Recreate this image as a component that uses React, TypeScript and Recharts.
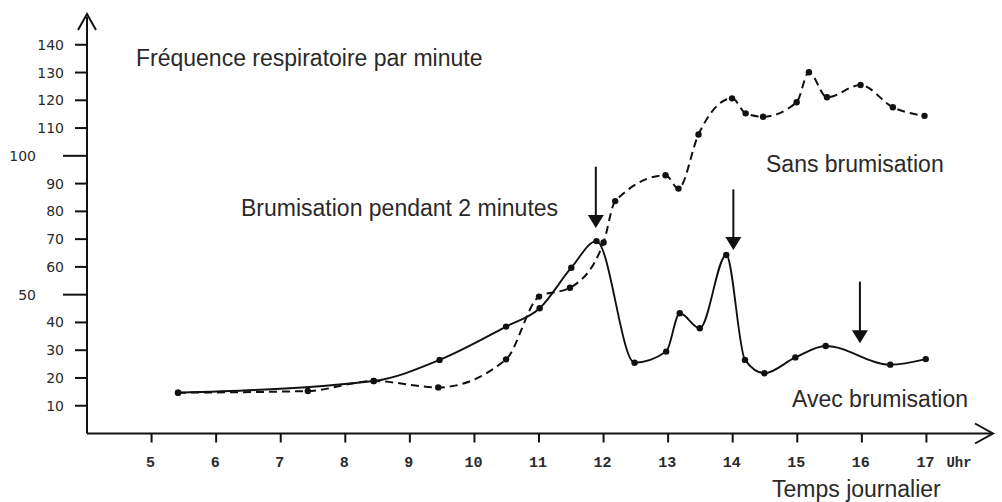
import React from 'react';
import { LineChart, Line, XAxis, YAxis, ReferenceLine, ReferenceDot } from 'recharts';

// Avec brumisation (solid)
const solidHours = [5.41, 8.44, 9.46, 10.49, 11.01, 11.5, 11.89, 12.48, 12.97, 13.18, 13.49, 13.9, 14.19, 14.49, 14.97, 15.44, 16.44, 16.99];
const solidValues = [14.7, 18.9, 26.5, 38.5, 45.1, 59.7, 69.3, 25.5, 29.5, 43.3, 37.9, 64.3, 26.5, 21.7, 27.4, 31.5, 24.8, 26.8];

// Sans brumisation (dashed)
const dashedHours = [5.41, 7.42, 8.44, 9.44, 10.49, 11.0, 11.48, 12.0, 12.18, 12.96, 13.16, 13.47, 13.99, 14.2, 14.47, 14.99, 15.18, 15.46, 15.98, 16.48, 16.97];
const dashedValues = [14.7, 15.3, 18.9, 16.6, 26.7, 49.3, 52.5, 68.8, 83.7, 93.0, 88.2, 107.7, 120.7, 115.3, 114.1, 119.3, 130.1, 121.1, 125.5, 117.5, 114.4];

// Arrows "Brumisation"
const arrowHours = [11.88, 14.01, 15.97];
const arrowTops = [96.1, 87.9, 54.7];
const arrowTips = [74.0, 66.1, 32.5];

const xTicks = [5, 6, 7, 8, 9, 10, 11, 12, 13, 14, 15, 16, 17];
const yTicks = [10, 20, 30, 40, 50, 60, 70, 80, 90, 100, 110, 120, 130, 140];
const longYTicks = [50, 100];

const solidData = solidHours.map((h, i) => ({ h, v: solidValues[i] }));
const dashedData = dashedHours.map((h, i) => ({ h, v: dashedValues[i] }));

const INK = '#111';
const TEXT = '#2a2a2a';

const YTick = (props: any) => {
  const { x, y, payload } = props;
  const long = longYTicks.includes(payload.value);
  const len = long ? 24 : 12;
  const gap = long ? 27 : 11;
  return (
    <g>
      <line x1={x - len} y1={y} x2={x} y2={y} stroke={INK} strokeWidth={2} />
      <text x={x - len - gap} y={y} dy="0.36em" textAnchor="end" fontFamily="DejaVu Sans" fontSize={14} fill={TEXT}>
        {payload.value}
      </text>
    </g>
  );
};

const XTick = (props: any) => {
  const { x, y, payload } = props;
  return (
    <g>
      <line x1={x} y1={y} x2={x} y2={y + 9} stroke={INK} strokeWidth={2} />
      <text x={x - 1} y={y + 33} textAnchor="middle" fontFamily="Liberation Mono" fontWeight="bold" fontSize={15} fill={TEXT}>
        {payload.value}
      </text>
      {payload.value === 17 ? (
        <text x={x + 20} y={y + 33} textAnchor="start" fontFamily="Liberation Mono" fontWeight="bold" fontSize={14} fill={TEXT}>
          Uhr
        </text>
      ) : null}
    </g>
  );
};

const ArrowShape = (props: any) => {
  const { x1, y1, x2, y2 } = props;
  const headH = 13;
  const headW = 8;
  return (
    <g>
      <line x1={x1} y1={y1} x2={x2} y2={y2 - headH + 1} stroke={INK} strokeWidth={2} />
      <polygon points={`${x2 - headW},${y2 - headH} ${x2 + headW},${y2 - headH} ${x2},${y2}`} fill={INK} />
    </g>
  );
};

const UpHead = (props: any) => {
  const { cx, cy } = props;
  return (
    <polyline points={`${cx - 9},${cy + 13} ${cx},${cy - 3} ${cx + 9},${cy + 13}`} fill="none" stroke={INK} strokeWidth={2} />
  );
};

const RightHead = (props: any) => {
  const { cx, cy } = props;
  return (
    <polyline points={`${cx - 16},${cy - 10} ${cx + 2},${cy} ${cx - 16},${cy + 10}`} fill="none" stroke={INK} strokeWidth={2} />
  );
};

const textStyle = { fontFamily: '"Liberation Sans", Arial, sans-serif', fontSize: 23, fill: TEXT } as const;

export default function App() {
  return (
    <div style={{ position: 'absolute', left: 0, top: 0, width: 1002, height: 502, background: '#fff' }}>
      <LineChart width={1002} height={502} margin={{ top: 17, right: 11, bottom: 8.5, left: 0 }}>
        <XAxis
          dataKey="h"
          type="number"
          domain={[4, 18]}
          ticks={xTicks}
          allowDataOverflow
          height={60}
          tickSize={0}
          tickMargin={0}
          tickLine={false}
          axisLine={{ stroke: INK, strokeWidth: 2 }}
          tick={<XTick />}
          interval={0}
        />
        <YAxis
          type="number"
          domain={[0, 150]}
          ticks={yTicks}
          allowDataOverflow
          width={87}
          tickSize={0}
          tickMargin={0}
          tickLine={false}
          axisLine={{ stroke: INK, strokeWidth: 2 }}
          tick={<YTick />}
          interval={0}
        />
        <Line
          data={dashedData}
          dataKey="v"
          type="monotone"
          stroke={INK}
          strokeWidth={2}
          strokeDasharray="8 5"
          dot={{ r: 3.2, fill: INK, stroke: 'none' }}
          isAnimationActive={false}
        />
        <Line
          data={solidData}
          dataKey="v"
          type="monotone"
          stroke={INK}
          strokeWidth={1.9}
          dot={{ r: 3.2, fill: INK, stroke: 'none' }}
          isAnimationActive={false}
        />
        {arrowHours.map((h, i) => (
          <ReferenceLine
            key={'a' + i}
            segment={[{ x: h, y: arrowTops[i] }, { x: h, y: arrowTips[i] }]}
            ifOverflow="visible"
            shape={<ArrowShape />}
          />
        ))}
        <ReferenceDot x={4} y={150} r={0} ifOverflow="visible" shape={<UpHead />} />
        <ReferenceDot x={18} y={0} r={0} ifOverflow="visible" shape={<RightHead />} />
      </LineChart>
      <svg width={1002} height={502} style={{ position: 'absolute', left: 0, top: 0, pointerEvents: 'none' }}>
        <text x={136} y={66} {...textStyle}>Fréquence respiratoire par minute</text>
        <text x={241} y={216} {...textStyle}>Brumisation pendant 2 minutes</text>
        <text x={766} y={172} {...textStyle}>Sans brumisation</text>
        <text x={792} y={407} {...textStyle}>Avec brumisation</text>
        <text x={772} y={497} {...textStyle}>Temps journalier</text>
      </svg>
    </div>
  );
}
